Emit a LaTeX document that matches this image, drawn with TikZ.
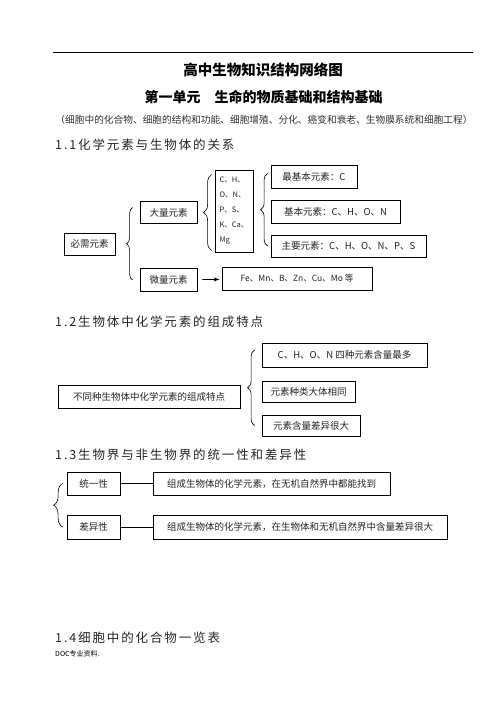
\documentclass[tikz,border=0pt]{standalone}
\usepackage{fontspec}
\setmainfont{Noto Sans CJK SC}
\newfontfamily\widefont[LetterSpace=15]{Noto Sans CJK SC}
\usetikzlibrary{
  calc,%
  % for the curly braces
  decorations.pathreplacing,%
  positioning
}
\tikzset{>=latex}
\tikzset{box/.style={draw, line width=0.8pt, inner sep=0pt, text=black!85,
    font=\fontsize{9.5}{11}\selectfont}}
\tikzset{curly/.style={decorate, decoration={brace, amplitude=#1}, line width=0.6pt}}
\tikzset{heading/.style={anchor=west, inner sep=0pt, text=black!85,
    font=\widefont\fontsize{12.5}{14}\selectfont}}

\begin{document}
\begin{tikzpicture}[x=1pt, y=-1pt]
  \fill[white] (0, 0) rectangle (500, 706);
  \useasboundingbox (0, 0) rectangle (500, 706);
  % page head
  \coordinate (ruleL) at (53, 52); \coordinate (ruleR) at (473, 52);
  \draw[line width=0.8pt] (ruleL) -- (ruleR);
  \node[font=\bfseries\fontsize{14.5}{16}\selectfont] (title) at (263, 70) {高中生物知识结构网络图};
  \node[font=\bfseries\fontsize{14}{16}\selectfont] (unit) at (263.5, 97) {第一单元　生命的物质基础和结构基础};
  \node[font=\fontsize{9.7}{11}\selectfont, text=black!80] (scope) at (264, 120)
    {（细胞中的化合物、细胞的结构和功能、细胞增殖、分化、癌变和衰老、生物膜系统和细胞工程）};

  % 1.1
  \node[heading] (h1) at (55, 145) {1.1化学元素与生物体的关系};
  \node[box, minimum width=51, minimum height=22] (essential) at (89.5, 244) {必需元素};
  \node[box, minimum width=57, minimum height=22] (macro) at (168.5, 212.5) {大量元素};
  \node[box, minimum width=57, minimum height=23] (micro) at (168.5, 280) {微量元素};
  \node[box, minimum width=150, minimum height=23, font=\fontsize{8.5}{10}\selectfont] (microlist) at (297, 278.5) {Fe、Mn、B、Zn、Cu、Mo 等};
  \node[box, minimum width=38, minimum height=82, align=left, font=\fontsize{7.5}{15}\selectfont] (elems) at (234, 211)
    {C、H、\\O、N、\\P、S、\\K、Ca、\\Mg};
  \node[box, minimum width=86, minimum height=23] (basic1) at (314, 176.5) {最基本元素：C};
  \node[box, minimum width=129, minimum height=23] (basic2) at (335.5, 211.5) {基本元素：C、H、O、N};
  \node[box, minimum width=155, minimum height=22] (basic3) at (348.5, 246) {主要元素：C、H、O、N、P、S};
  \draw[curly=6pt] ([xshift=-7pt]micro.west) -- ([xshift=-7pt, yshift=5pt]macro.west);
  \draw[curly=8pt] ([xshift=-3pt, yshift=2pt]elems.south west) -- ([xshift=-3pt, yshift=-5pt]elems.north west);
  \draw[curly=7pt] ([xshift=-3pt]basic3.west) -- ([xshift=-3pt, yshift=3pt]basic1.west);
  \draw[->, line width=0.8pt, shorten <=5pt, shorten >=2pt] (micro) -- (microlist);

  % 1.2
  \node[heading] (h2) at (55, 322) {1.2生物体中化学元素的组成特点};
  \node[box, minimum width=182, minimum height=23] (feature) at (149, 396.5) {不同种生物体中化学元素的组成特点};
  \node[box, minimum width=165, minimum height=24] (f1) at (344.5, 355) {C、H、O、N 四种元素含量最多};
  \node[box, minimum width=93, minimum height=21] (f2) at (308.5, 392) {元素种类大体相同};
  \node[box, minimum width=98, minimum height=21] (f3) at (311, 425.5) {元素含量差异很大};
  \draw[curly=7pt] ([xshift=-7pt]f3.west) -- ([xshift=-7pt, yshift=5pt]f1.west);

  % 1.3
  \node[heading] (h3) at (55, 455) {1.3生物界与非生物界的统一性和差异性};
  \node[box, minimum width=53, minimum height=23] (unity) at (93.5, 483.5) {统一性};
  \node[box, minimum width=237, minimum height=23] (unitytext) at (271.5, 483.5) {组成生物体的化学元素，在无机自然界中都能找到};
  \node[box, minimum width=53, minimum height=24] (diff) at (93.5, 527) {差异性};
  \node[box, minimum width=294, minimum height=24] (difftext) at (300, 527) {组成生物体的化学元素，在生物体和无机自然界中含量差异很大};
  \draw[line width=0.8pt] (unity) -- (unitytext);
  \draw[line width=0.8pt] (diff) -- (difftext);
  \draw[curly=9pt] ([xshift=-4pt]diff.west) -- ([xshift=-4pt]unity.west);

  % 1.4
  \node[heading] (h4) at (55, 638) {1.4细胞中的化合物一览表};
  \node[anchor=west, inner sep=0pt, font=\fontsize{7}{8}\selectfont] (foot) at (55, 654) {DOC专业资料.};
\end{tikzpicture}
\end{document}
